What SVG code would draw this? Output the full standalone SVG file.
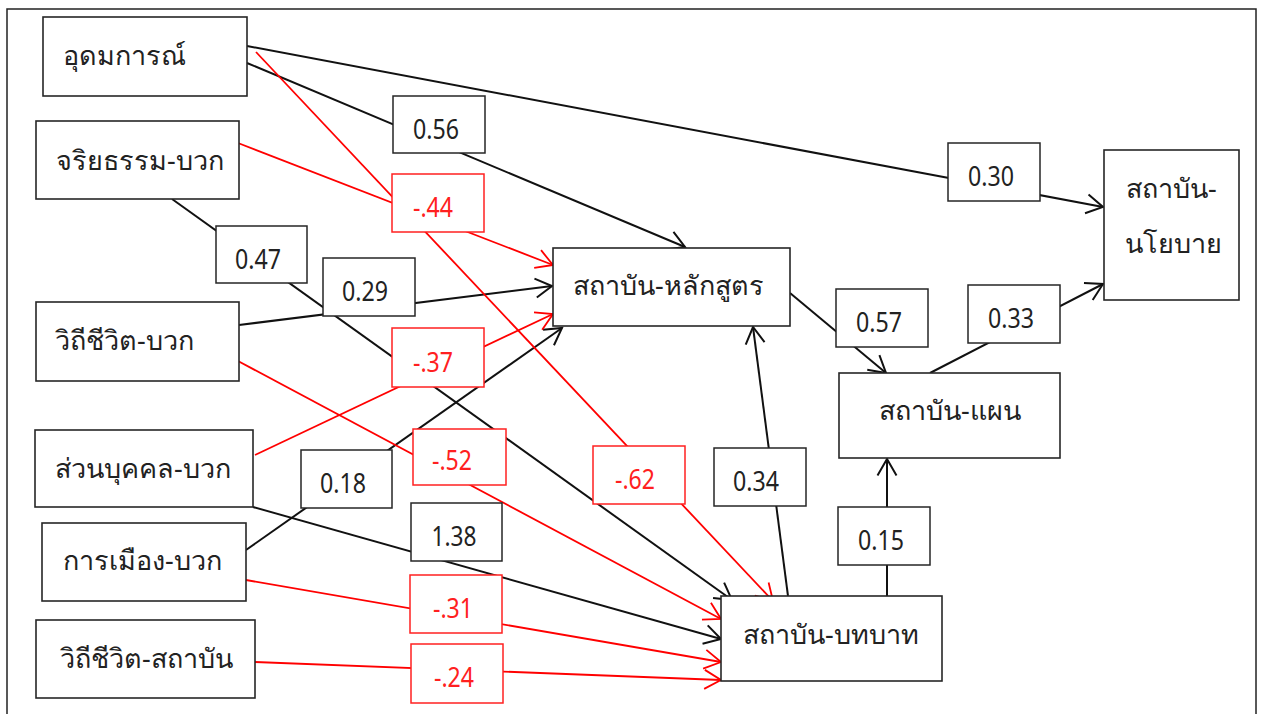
<svg xmlns="http://www.w3.org/2000/svg" width="1265" height="714" viewBox="0 0 1265 714">
<style>
.frame{fill:#fff;stroke:#222;stroke-width:1.5}
.node rect{fill:#fff;stroke:#262626;stroke-width:1.6}
.node text{font-family:"Noto Sans","DejaVu Sans",sans-serif;font-size:27px;fill:#222}
.cb rect{fill:#fff;stroke:#262626;stroke-width:1.5}
.cr rect{fill:#fff;stroke:#ff2020;stroke-width:1.5}
.cb text,.cr text{font-family:"Noto Sans","DejaVu Sans",sans-serif;font-size:27px;text-anchor:middle}
.cb text{fill:#222}
.cr text{fill:#ff2020}
.k{stroke:#111;stroke-width:2;fill:none}
.r{stroke:#ff0000;stroke-width:1.8;fill:none}
.k.a{marker-end:url(#ak)}
.r.a{marker-end:url(#ar)}
</style>
<defs>
<marker id="ak" markerUnits="userSpaceOnUse" markerWidth="22" markerHeight="22" refX="17" refY="10" orient="auto" overflow="visible"><path d="M0.5,0.5 L17,10 L0.5,19.5" fill="none" stroke="#111" stroke-width="2"/></marker>
<marker id="ar" markerUnits="userSpaceOnUse" markerWidth="22" markerHeight="22" refX="17" refY="10" orient="auto" overflow="visible"><path d="M0.5,0.5 L17,10 L0.5,19.5" fill="none" stroke="#ff0000" stroke-width="1.8"/></marker>
</defs>
<rect class="frame" x="7" y="9" width="1249" height="720"/>
<g id="connectors">
<line class="k a" x1="247" y1="46" x2="1103" y2="207"/>
<line class="k a" x1="247" y1="63" x2="685" y2="247"/>
<line class="k a" x1="172" y1="199" x2="732" y2="600"/>
<line class="k a" x1="239" y1="325" x2="552" y2="286"/>
<line class="k a" x1="246" y1="550" x2="562" y2="328"/>
<line class="k a" x1="253" y1="507" x2="721" y2="639"/>
<line class="k a" x1="788" y1="596" x2="753" y2="327"/>
<line class="k a" x1="887" y1="596" x2="887" y2="459"/>
<line class="k a" x1="790" y1="293" x2="886" y2="373"/>
<line class="k a" x1="930" y1="373" x2="1103" y2="284"/>
<line class="r a" x1="256" y1="52" x2="773" y2="601"/>
<line class="r a" x1="238" y1="143" x2="553" y2="265"/>
<line class="r a" x1="255" y1="455" x2="553" y2="314"/>
<line class="r a" x1="238" y1="361" x2="721" y2="619"/>
<line class="r a" x1="246" y1="580" x2="721" y2="662"/>
<line class="r a" x1="255" y1="662" x2="721" y2="680"/>
</g>
<g id="coefficients">
<g class="cb" id="c056"><rect x="393" y="96" width="92" height="57"/><text x="436" y="139" textLength="46" lengthAdjust="spacingAndGlyphs">0.56</text></g>
<g class="cr" id="c044"><rect x="392" y="174" width="92" height="58"/><text x="433" y="217" textLength="40" lengthAdjust="spacingAndGlyphs">-.44</text></g>
<g class="cb" id="c047"><rect x="216" y="226" width="91" height="57"/><text x="258" y="269" textLength="46" lengthAdjust="spacingAndGlyphs">0.47</text></g>
<g class="cb" id="c029"><rect x="323" y="258" width="92" height="58"/><text x="365" y="301" textLength="46" lengthAdjust="spacingAndGlyphs">0.29</text></g>
<g class="cr" id="c037"><rect x="392" y="328" width="92" height="59"/><text x="433" y="372" textLength="40" lengthAdjust="spacingAndGlyphs">-.37</text></g>
<g class="cr" id="c052"><rect x="413" y="429" width="93" height="56"/><text x="452" y="470" textLength="40" lengthAdjust="spacingAndGlyphs">-.52</text></g>
<g class="cr" id="c062"><rect x="593" y="446" width="92" height="58"/><text x="635" y="489" textLength="40" lengthAdjust="spacingAndGlyphs">-.62</text></g>
<g class="cb" id="c034"><rect x="714" y="448" width="92" height="58"/><text x="756" y="491" textLength="46" lengthAdjust="spacingAndGlyphs">0.34</text></g>
<g class="cb" id="c018"><rect x="301" y="450" width="91" height="58"/><text x="343" y="493" textLength="46" lengthAdjust="spacingAndGlyphs">0.18</text></g>
<g class="cb" id="c138"><rect x="411" y="503" width="91" height="58"/><text x="454" y="546" textLength="45" lengthAdjust="spacingAndGlyphs">1.38</text></g>
<g class="cr" id="c031"><rect x="410" y="575" width="92" height="58"/><text x="453" y="618" textLength="40" lengthAdjust="spacingAndGlyphs">-.31</text></g>
<g class="cr" id="c024"><rect x="411" y="644" width="92" height="59"/><text x="454" y="687" textLength="40" lengthAdjust="spacingAndGlyphs">-.24</text></g>
<g class="cb" id="c015"><rect x="838" y="507" width="92" height="58"/><text x="881" y="550" textLength="46" lengthAdjust="spacingAndGlyphs">0.15</text></g>
<g class="cb" id="c030"><rect x="948" y="143" width="92" height="58"/><text x="991" y="186" textLength="46" lengthAdjust="spacingAndGlyphs">0.30</text></g>
<g class="cb" id="c057"><rect x="836" y="289" width="92" height="58"/><text x="879" y="332" textLength="46" lengthAdjust="spacingAndGlyphs">0.57</text></g>
<g class="cb" id="c033"><rect x="968" y="285" width="92" height="58"/><text x="1011" y="328" textLength="46" lengthAdjust="spacingAndGlyphs">0.33</text></g>
</g>
<g class="node" id="n1"><rect x="43" y="17" width="204" height="79"/><text x="63" y="65">อุดมการณ์</text></g>
<g class="node" id="n2"><rect x="36" y="121" width="203" height="78"/><text x="56" y="170">จริยธรรม-บวก</text></g>
<g class="node" id="n3"><rect x="36" y="302" width="203" height="79"/><text x="55" y="350">วิถีชีวิต-บวก</text></g>
<g class="node" id="n4"><rect x="35" y="430" width="218" height="77"/><text x="55" y="478">ส่วนบุคคล-บวก</text></g>
<g class="node" id="n5"><rect x="42" y="523" width="204" height="78"/><text x="63" y="570">การเมือง-บวก</text></g>
<g class="node" id="n6"><rect x="36" y="620" width="219" height="78"/><text x="60" y="668">วิถีชีวิต-สถาบัน</text></g>
<g class="node" id="n7"><rect x="553" y="248" width="237" height="78"/><text x="573" y="295">สถาบัน-หลักสูตร</text></g>
<g class="node" id="n8"><rect x="721" y="596" width="221" height="85"/><text x="743" y="644">สถาบัน-บทบาท</text></g>
<g class="node" id="n9"><rect x="839" y="373" width="221" height="85"/><text x="879" y="420">สถาบัน-แผน</text></g>
<g class="node" id="n10"><rect x="1104" y="150" width="135" height="150"/><text x="1126" y="198">สถาบัน-</text><text x="1125" y="253">นโยบาย</text></g>
</svg>
